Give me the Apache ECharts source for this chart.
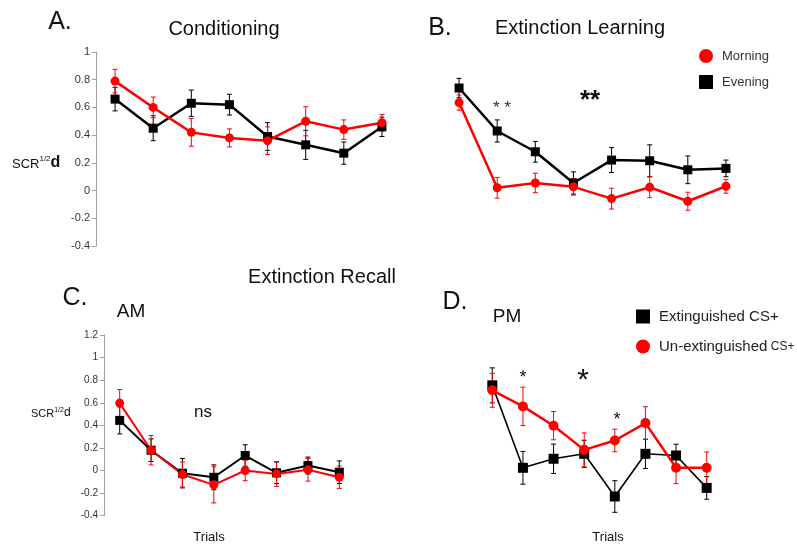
<!DOCTYPE html>
<html>
<head>
<meta charset="utf-8">
<script src="https://cdn.jsdelivr.net/npm/echarts@6/dist/echarts.min.js"></script>
<style>
html,body{margin:0;padding:0;background:#fff;}
#chart{width:797px;height:545px;}
</style>
</head>
<body>
<div id="chart"></div>
<script>
// ---- data ----
const trials = ['1','2','3','4','5','6','7','8'];
const yTicksTop = [-0.4, 1, 0.2];   // min, max, interval
const yTicksBottom = [-0.4, 1.2, 0.2];

// A. Conditioning
const eveningA = [0.66, 0.45, 0.63, 0.62, 0.39, 0.33, 0.27, 0.46];
const eveningAErr = [0.085, 0.09, 0.095, 0.075, 0.10, 0.105, 0.08, 0.07];
const morningA = [0.79, 0.60, 0.42, 0.38, 0.36, 0.50, 0.44, 0.49];
const morningAErr = [0.085, 0.075, 0.10, 0.065, 0.10, 0.105, 0.07, 0.06];

// B. Extinction Learning
const eveningB = [0.74, 0.43, 0.28, 0.055, 0.22, 0.215, 0.15, 0.16];
const eveningBErr = [0.07, 0.08, 0.075, 0.08, 0.09, 0.115, 0.10, 0.06];
const morningB = [0.635, 0.02, 0.055, 0.027, -0.058, 0.024, -0.077, 0.031];
const morningBErr = [0.055, 0.075, 0.07, 0.06, 0.075, 0.075, 0.065, 0.05];

// C. Extinction Recall AM
const extC = [0.444, 0.18, -0.024, -0.06, 0.133, -0.02, 0.044, -0.015];
const extCErr = [0.12, 0.10, 0.13, 0.11, 0.095, 0.095, 0.075, 0.10];
const unC = [0.597, 0.18, -0.035, -0.127, 0.0, -0.03, 0.006, -0.06];
const unCErr = [0.12, 0.13, 0.11, 0.16, 0.09, 0.11, 0.10, 0.10];

// D. Extinction Recall PM
const extD = [0.754, 0.024, 0.104, 0.148, -0.23, 0.148, 0.133, -0.154];
const extDErr = [0.155, 0.145, 0.13, 0.12, 0.14, 0.13, 0.10, 0.10];
const unD = [0.71, 0.568, 0.397, 0.183, 0.266, 0.42, 0.024, 0.024];
const unDErr = [0.15, 0.17, 0.125, 0.15, 0.10, 0.145, 0.14, 0.14];

// ---- build ----
const FONT = '"Liberation Sans", Arial, sans-serif';
const RED = '#ff0000';
const BLACK = '#000000';

function errData(vals, errs) {
  return vals.map((v, i) => [i, v - errs[i], v + errs[i]]);
}
function errSeries(idx, vals, errs, color, name) {
  return {
    type: 'custom', name: name + ' (SEM)', xAxisIndex: idx, yAxisIndex: idx, z: 3,
    data: errData(vals, errs), encode: {x: 0, y: [1, 2]},
    itemStyle: {color: color},
    silent: true,
    renderItem: function (params, api) {
      const x = api.value(0);
      const lo = api.coord([x, api.value(1)]);
      const hi = api.coord([x, api.value(2)]);
      const w = 2.5;
      const st = {stroke: color, lineWidth: 1};
      return {type: 'group', children: [
        {type: 'line', shape: {x1: lo[0], y1: lo[1], x2: hi[0], y2: hi[1]}, style: st},
        {type: 'line', shape: {x1: lo[0]-w, y1: lo[1], x2: lo[0]+w, y2: lo[1]}, style: st},
        {type: 'line', shape: {x1: hi[0]-w, y1: hi[1], x2: hi[0]+w, y2: hi[1]}, style: st}
      ]};
    }
  };
}
function lineSeries(idx, name, vals, color, symbol, size, width) {
  return {
    type: 'line', name: name, xAxisIndex: idx, yAxisIndex: idx, z: 4,
    data: vals, symbol: symbol, symbolSize: size, showSymbol: true,
    color: color,
    lineStyle: {color: color, width: width},
    itemStyle: {color: color},
    animation: false
  };
}

const grids = [
  {left: 96, top: 52, width: 305, height: 194},
  {left: 440, top: 52, width: 305, height: 194},
  {left: 104, top: 335, width: 251, height: 180.7},
  {left: 477, top: 335, width: 245, height: 180.7}
];

const xAxes = grids.map((g, i) => ({
  type: 'category', gridIndex: i, data: trials, boundaryGap: true, show: false
}));

function yAxis(i, ticks, show, fs) {
  return {
    type: 'value', gridIndex: i, min: ticks[0], max: ticks[1], interval: ticks[2],
    show: show,
    axisLine: {show: true, lineStyle: {color: '#a0a0a0', width: 1}},
    axisTick: {show: true, length: 4, lineStyle: {color: '#a0a0a0'}},
    splitLine: {show: false},
    axisLabel: {fontSize: fs, color: '#333', fontFamily: FONT, margin: 6,
      formatter: v => String(Math.round(v * 10) / 10)}
  };
}

const yAxes = [
  yAxis(0, yTicksTop, true, 11),
  yAxis(1, yTicksTop, false, 11),
  yAxis(2, yTicksBottom, true, 10),
  yAxis(3, yTicksBottom, false, 10)
];

const series = [
  errSeries(0, eveningA, eveningAErr, BLACK, 'Evening'),
  errSeries(0, morningA, morningAErr, RED, 'Morning'),
  lineSeries(0, 'Evening', eveningA, BLACK, 'rect', 9, 2.5),
  lineSeries(0, 'Morning', morningA, RED, 'circle', 9, 2.5),

  errSeries(1, eveningB, eveningBErr, BLACK, 'Evening'),
  errSeries(1, morningB, morningBErr, RED, 'Morning'),
  lineSeries(1, 'Evening', eveningB, BLACK, 'rect', 9, 2.5),
  lineSeries(1, 'Morning', morningB, RED, 'circle', 9, 2.5),

  errSeries(2, extC, extCErr, BLACK, 'Extinguished CS+'),
  errSeries(2, unC, unCErr, RED, 'Un-extinguished CS+'),
  lineSeries(2, 'Extinguished CS+', extC, BLACK, 'rect', 9, 2),
  lineSeries(2, 'Un-extinguished CS+', unC, RED, 'circle', 9, 2),

  errSeries(3, extD, extDErr, BLACK, 'Extinguished CS+'),
  errSeries(3, unD, unDErr, RED, 'Un-extinguished CS+'),
  lineSeries(3, 'Extinguished CS+', extD, BLACK, 'rect', 10, 1.6),
  lineSeries(3, 'Un-extinguished CS+', unD, RED, 'circle', 10, 2.5)
];

function txt(x, y, text, size, opts) {
  opts = opts || {};
  return {
    type: 'text', x: x, y: y, silent: true,
    style: Object.assign({
      text: text, fill: '#111', font: (opts.weight || 'normal') + ' ' + size + 'px ' + FONT,
      textAlign: opts.align || 'center', textVerticalAlign: 'middle'
    }, opts.style || {})
  };
}
function scr(x, y, base, sup, d, dWeight) {
  return {
    type: 'text', x: x, y: y, silent: true,
    style: {
      text: '{a|SCR}{b|1/2}{c|d}',
      textAlign: 'left', textVerticalAlign: 'middle',
      rich: {
        a: {fontSize: base, fontFamily: FONT, fill: '#111', verticalAlign: 'bottom'},
        b: {fontSize: sup, fontFamily: FONT, fill: '#111', verticalAlign: 'top'},
        c: {fontSize: d, fontFamily: FONT, fill: '#111', fontWeight: dWeight, verticalAlign: 'bottom'}
      }
    }
  };
}

const graphics = [
  txt(60, 22, 'A.', 25),
  txt(224, 29, 'Conditioning', 20),
  txt(440, 28, 'B.', 25),
  txt(580, 28, 'Extinction Learning', 20),
  txt(322, 277, 'Extinction Recall', 20),
  txt(75, 298, 'C.', 25),
  txt(131, 312, 'AM', 19),
  txt(455, 302, 'D.', 25),
  txt(507, 317, 'PM', 19),
  txt(203, 412, 'ns', 17),
  txt(209, 537, 'Trials', 13),
  txt(608, 537, 'Trials', 13),
  scr(12, 163, 13, 8, 16, 'bold'),
  scr(31, 413, 11, 7, 12, 'normal'),
  // significance stars
  txt(502, 108, '* *', 17, {style: {fill: '#333'}}),
  txt(590, 101, '**', 26, {weight: 'bold'}),
  txt(523, 378, '*', 18),
  txt(583, 381, '*', 30),
  txt(617, 420, '*', 18)
];

const chart = echarts.init(document.getElementById('chart'), null, {renderer: 'canvas'});
chart.setOption({
  animation: false,
  backgroundColor: '#ffffff',
  grid: grids,
  xAxis: xAxes,
  yAxis: yAxes,
  legend: [
    {
      orient: 'vertical', left: 694, top: 44, itemWidth: 14, itemHeight: 14, itemGap: 12,
      selectedMode: false,
      data: [{name: 'Morning', icon: 'circle'}, {name: 'Evening', icon: 'rect'}],
      textStyle: {fontSize: 13, color: '#333', fontFamily: FONT, lineHeight: 14, padding: [0, 0, 0, 4]}
    },
    {
      orient: 'vertical', left: 631, top: 304, itemWidth: 14, itemHeight: 14, itemGap: 15,
      selectedMode: false,
      data: [{name: 'Extinguished CS+', icon: 'rect'}, {name: 'Un-extinguished CS+', icon: 'circle'}],
      formatter: function (n) {
        return n === 'Un-extinguished CS+' ? '{a|Un-extinguished} {b|CS+}' : '{a|Extinguished CS+}';
      },
      textStyle: {color: '#222', fontFamily: FONT, lineHeight: 14, padding: [0, 0, 0, 4],
        rich: {a: {fontSize: 15, fontFamily: FONT, color: '#222'}, b: {fontSize: 12, fontFamily: FONT, color: '#222'}}}
    }
  ],
  graphic: graphics,
  series: series
});
</script>
</body>
</html>
